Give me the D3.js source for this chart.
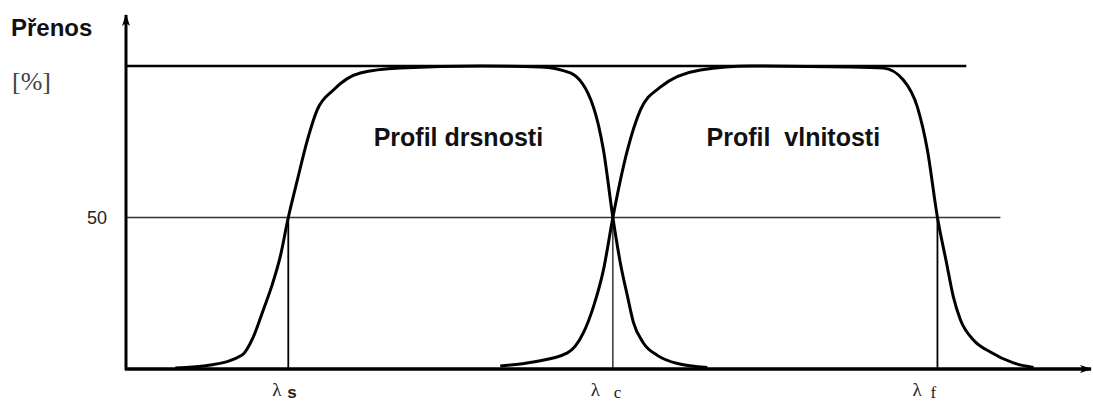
<!DOCTYPE html>
<html>
<head>
<meta charset="utf-8">
<script src="https://cdn.jsdelivr.net/npm/d3@7"></script>
<style>
  body { margin: 0; background: #fff; }
  svg { display: block; }
</style>
</head>
<body>
<div id="chart"></div>
<script>
// position along the wavelength axis (log-like units), transmission in %
const roughX = [0.652, 0.76, 0.858, 0.892, 0.923, 0.951, 0.975, 1.0, 1.028, 1.059, 1.089, 1.139, 1.222, 1.345, 1.592, 1.777, 1.869, 1.94, 1.971, 2.0, 2.023, 2.045, 2.063, 2.094, 2.137, 2.199, 2.291];
const roughY = [0.3, 1.3, 4.6, 10.5, 19.5, 28, 37, 50, 62.4, 75.6, 85.5, 92.1, 97.7, 99.3, 100, 99.7, 97.7, 86.5, 72.3, 50, 35, 24, 15.5, 8.6, 4.5, 1.8, 0.5];
const waveX = [1.653, 1.755, 1.86, 1.909, 1.94, 1.971, 2.0, 2.045, 2.085, 2.146, 2.27, 2.424, 2.732, 2.834, 2.895, 2.938, 2.969, 3.0, 3.028, 3.049, 3.071, 3.111, 3.163, 3.234, 3.296];
const waveY = [1.0, 2.3, 5.3, 11.9, 20.5, 32.7, 50, 72.3, 85.5, 93, 98.7, 100, 99.7, 99.3, 95.4, 86.5, 72.3, 50, 35, 23.8, 16.2, 9.6, 5.6, 2, 0.5];

const cutoffPos = [1, 2, 3];
const cutoffSub = ['s', 'c', 'f'];
const yTicks = [50];
const topLevel = 100;
const profileNames = ['Profil drsnosti', 'Profil  vlnitosti'];
const profileNameX = [1.524, 2.556];

const svgWidth = 1093;
const svgHeight = 402;

const svg = d3.select('#chart')
    .append('svg')
    .attr('width', svgWidth)
    .attr('height', svgHeight);

// scales
const xScale = d3.scaleLinear()
    .domain([0.5, 3.47])
    .range([126, 1090]);

const yScale = d3.scaleLinear()
    .domain([0, 100])
    .range([369, 66]);

// 50 % reference line
svg.selectAll('.refLine')
    .data(yTicks)
    .enter().append('line')
    .attr('class', 'refLine')
    .attr('x1', xScale(0.5))
    .attr('x2', xScale(3.194))
    .attr('y1', d => yScale(d))
    .attr('y2', d => yScale(d))
    .style('stroke', '#333')
    .style('stroke-width', 1.3);

svg.selectAll('.tickLabel')
    .data(yTicks)
    .enter().append('text')
    .attr('class', 'tickLabel')
    .attr('x', 107)
    .attr('y', d => yScale(d))
    .attr('dy', '0.35em')
    .attr('text-anchor', 'end')
    .style('font-family', 'Liberation Sans, Arial, sans-serif')
    .style('font-size', '18px')
    .style('fill', '#222')
    .text(d => d);

// 100 % line
svg.append('line')
    .attr('x1', xScale(0.5))
    .attr('x2', xScale(3.089))
    .attr('y1', yScale(topLevel))
    .attr('y2', yScale(topLevel))
    .style('stroke', '#000')
    .style('stroke-width', 2.5);

// cut-off verticals
svg.selectAll('.cutoff')
    .data(cutoffPos)
    .enter().append('line')
    .attr('class', 'cutoff')
    .attr('x1', d => xScale(d))
    .attr('x2', d => xScale(d))
    .attr('y1', yScale(50))
    .attr('y2', yScale(0))
    .style('stroke', '#000')
    .style('stroke-width', (d, i) => i == 1 ? 1.2 : 1.8);

// transmission curves
const line = d3.line()
    .x(d => xScale(d[0]))
    .y(d => yScale(d[1]))
    .curve(d3.curveMonotoneX);

svg.append('path')
    .datum(d3.zip(roughX, roughY))
    .attr('d', line)
    .style('fill', 'none')
    .style('stroke', '#000')
    .style('stroke-width', 3);

svg.append('path')
    .datum(d3.zip(waveX, waveY))
    .attr('d', line)
    .style('fill', 'none')
    .style('stroke', '#000')
    .style('stroke-width', 3);

// axes with arrows
svg.append('defs').append('marker')
    .attr('id', 'arrow')
    .attr('viewBox', '0 0 12 8')
    .attr('refX', 11)
    .attr('refY', 4)
    .attr('markerUnits', 'userSpaceOnUse')
    .attr('markerWidth', 14)
    .attr('markerHeight', 8)
    .attr('orient', 'auto')
    .append('path')
    .attr('d', 'M0,0 L12,4 L0,8 L3,4 Z')
    .style('fill', '#000');

svg.append('line')
    .attr('x1', xScale(0.5) - 1)
    .attr('x2', xScale(3.47) + 1)
    .attr('y1', yScale(0))
    .attr('y2', yScale(0))
    .style('stroke', '#000')
    .style('stroke-width', 3.5)
    .attr('marker-end', 'url(#arrow)');

svg.append('line')
    .attr('x1', xScale(0.5))
    .attr('x2', xScale(0.5))
    .attr('y1', yScale(0) + 1)
    .attr('y2', 15)
    .style('stroke', '#000')
    .style('stroke-width', 3)
    .attr('marker-end', 'url(#arrow)');

// axis titles
svg.append('text')
    .attr('x', 11)
    .attr('y', 36)
    .style('font-family', 'Liberation Sans, Arial, sans-serif')
    .style('font-weight', 'bold')
    .style('font-size', '24px')
    .style('fill', '#111')
    .text('Přenos');

svg.append('text')
    .attr('x', 12)
    .attr('y', 90)
    .style('font-family', 'Liberation Serif, Times New Roman, serif')
    .style('font-size', '26px')
    .style('fill', '#444')
    .text('[%]');

// profile names
svg.selectAll('.profileName')
    .data(profileNames)
    .enter().append('text')
    .attr('class', 'profileName')
    .attr('x', (d, i) => xScale(profileNameX[i]))
    .attr('y', 146)
    .attr('text-anchor', 'middle')
    .style('white-space', 'pre')
    .style('font-family', 'Liberation Sans, Arial, sans-serif')
    .style('font-weight', 'bold')
    .style('font-size', '25px')
    .style('fill', '#111')
    .text(d => d);

// lambda labels
const lamOffset = [-16, -22, -25];
const subOffset = [-1, 1, -7];

const lam = svg.selectAll('.lambda')
    .data(cutoffPos)
    .enter().append('text')
    .attr('class', 'lambda')
    .attr('y', 396)
    .style('font-family', 'Liberation Serif, Times New Roman, serif')
    .style('fill', '#222');

lam.append('tspan')
    .attr('x', (d, i) => xScale(d) + lamOffset[i])
    .style('font-size', '19px')
    .text('λ');
lam.append('tspan')
    .attr('x', (d, i) => xScale(d) + subOffset[i])
    .attr('dy', 2)
    .style('font-size', '17px')
    .style('font-family', (d, i) => i == 0 ? 'Liberation Sans, Arial, sans-serif' : 'Liberation Serif, serif')
    .style('font-weight', (d, i) => i == 0 ? 'bold' : 'normal')
    .text((d, i) => cutoffSub[i]);
</script>
</body>
</html>
